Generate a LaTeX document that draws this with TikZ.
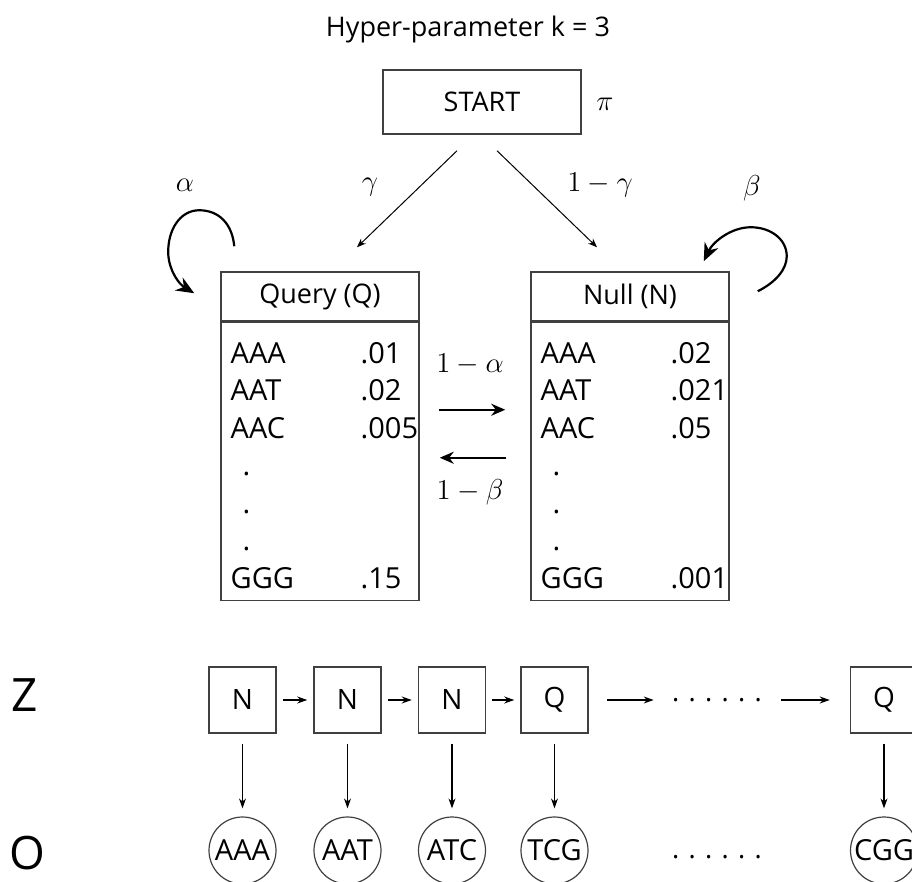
\documentclass[tikz,border=0pt]{standalone}
\usepackage{amsmath,amssymb}
\usepackage{fontspec}
\setmainfont{Open Sans}
\usetikzlibrary{arrows.meta,calc,positioning}

\newcommand{\krow}[2]{\makebox[65pt][l]{#1}#2}
\newcommand{\kdot}{\hspace*{6pt}.}

\begin{document}
\begin{tikzpicture}[x=0.5pt,y=-0.5pt,
  box/.style={draw=black!75,line width=0.75pt,inner sep=0pt,font=\fontsize{13.5}{16}\selectfont},
  tab/.style={align=left,inner sep=0pt,font=\fontsize{14.5}{18.75}\selectfont},
  zbox/.style={box,minimum width=33.5pt,minimum height=33pt,font=\fontsize{14}{16}\selectfont},
  obs/.style={circle,draw=black!75,line width=0.6pt,minimum size=33.5pt,inner sep=0pt,font=\fontsize{14.5}{15}\selectfont},
  lbl/.style={font=\fontsize{15.5}{16}\selectfont},
  thin arrow/.style={-{Stealth[length=4.5pt,width=3.5pt]},line width=0.5pt},
  loop arrow/.style={-{Stealth[length=9pt,width=7.5pt]},line width=1.1pt},
  mid arrow/.style={-{Stealth[length=7pt,width=6pt]},line width=1.1pt},
  chain arrow/.style={-{Stealth[length=5pt,width=3.5pt]},line width=0.6pt}]
  \clip (0,0) rectangle (912,882);
  \node[font=\fontsize{13.5}{16}\selectfont,anchor=base] (title) at (468,37) {Hyper-parameter k = 3};
  \node[box,minimum width=99pt,minimum height=32pt] (start) at (482,102) {START};
  \node[lbl] (pi) at (605,104) {$\pi$};
  % query and null tables
  \node[box,minimum width=99pt,minimum height=24.5pt] (qhead) at (320,296.5) {Query (Q)};
  \node[box,minimum width=99pt,minimum height=139pt,anchor=north] (qbody) at (qhead.south) {};
  \node[tab,anchor=north west] (qtab) at ($(qbody.north west)+(10,20)$)
    {\krow{AAA}{.01}\\ \krow{AAT}{.02}\\ \krow{AAC}{.005}\\ \kdot\\ \kdot\\ \kdot\\ \krow{GGG}{.15}};
  \node[box,minimum width=99pt,minimum height=24.5pt] (nhead) at (630,296.5) {Null (N)};
  \node[box,minimum width=99pt,minimum height=139pt,anchor=north] (nbody) at (nhead.south) {};
  \node[tab,anchor=north west] (ntab) at ($(nbody.north west)+(10,20)$)
    {\krow{AAA}{.02}\\ \krow{AAT}{.021}\\ \krow{AAC}{.05}\\ \kdot\\ \kdot\\ \kdot\\ \krow{GGG}{.001}};
  % transitions
  \draw[thin arrow] ($(start.south)+(-25,16)$) -- ($(qhead.north)+(37,-24)$);
  \draw[thin arrow] ($(start.south)+(15,16)$) -- ($(nhead.north)+(-33,-24)$);
  \node[lbl] (gam) at (370,187) {$\gamma$};
  \node[lbl] (omgam) at (600,185) {$1-\gamma$};
  \node[lbl] (alph) at (185,185) {$\alpha$};
  \node[lbl] (bet) at (752,188) {$\beta$};
  \draw[loop arrow] ($(qhead.north west)+(14,-25)$) .. controls +(-2,-22) and +(20,0) .. ($(qhead.north west)+(-21,-61)$)
    .. controls +(-20,0) and +(-1,-23) .. ($(qhead.north west)+(-52,-17)$)
    .. controls +(1,17) and +(-15,-9) .. ($(qhead.north west)+(-26,22)$);
  \draw[loop arrow] ($(nhead.north east)+(28,20)$) .. controls +(18,-9) and +(0,13) .. ($(nhead.north east)+(57,-15)$)
    .. controls +(0,-17) and +(20,0) .. ($(nhead.north east)+(21,-44)$)
    .. controls +(-20,0) and +(9,-19) .. ($(nhead.north east)+(-26,-10)$);
  \draw[mid arrow] ($(qbody.north east)+(19,88)$) -- ($(nbody.north west)+(-25,88)$);
  \draw[mid arrow] ($(nbody.north west)+(-24,136)$) -- ($(qbody.north east)+(20,136)$);
  \node[lbl] (oma) at (470,364) {$1-\alpha$};
  \node[lbl] (omb) at (470,492) {$1-\beta$};
  % hidden chain and observations
  \node[font=\fontsize{23}{24}\selectfont] (zlab) at (25,695) {Z};
  \node[font=\fontsize{23}{24}\selectfont] (olab) at (27,853) {O};
  \node[zbox] (z1) at (242.5,700) {N};
  \node[zbox] (z2) at (347.5,700) {N};
  \node[zbox] (z3) at (452,700) {N};
  \node[zbox] (z4) at (554.5,700) {Q};
  \node[zbox] (z5) at (884,700) {Q};
  \node[font=\fontsize{13.5}{16}\selectfont,inner sep=0pt] (zdots) at (717,700) {. . . . . .};
  \node[font=\fontsize{13.5}{16}\selectfont,inner sep=0pt] (odots) at (717,857) {. . . . . .};
  \node[obs] (o1) at (242.5,850.5) {AAA};
  \node[obs] (o2) at (347.5,850.5) {AAT};
  \node[obs] (o3) at (452,850.5) {ATC};
  \node[obs] (o4) at (554.5,850.5) {TCG};
  \node[obs] (o5) at (884,850.5) {CGG};
  \draw[chain arrow] ([xshift=3pt]z1.east) -- ([xshift=-3pt]z2.west);
  \draw[chain arrow] ([xshift=3pt]z2.east) -- ([xshift=-3pt]z3.west);
  \draw[chain arrow] ([xshift=3pt]z3.east) -- ([xshift=-3pt]z4.west);
  \draw[chain arrow] ([xshift=9pt]z4.east) -- ([xshift=-9pt]zdots.west);
  \draw[chain arrow] ([xshift=9.5pt]zdots.east) -- ([xshift=-10pt]z5.west);
  \foreach \i in {1,...,5}
    \draw[chain arrow,shorten <=5pt,shorten >=4pt] (z\i) -- (o\i);
\end{tikzpicture}
\end{document}
